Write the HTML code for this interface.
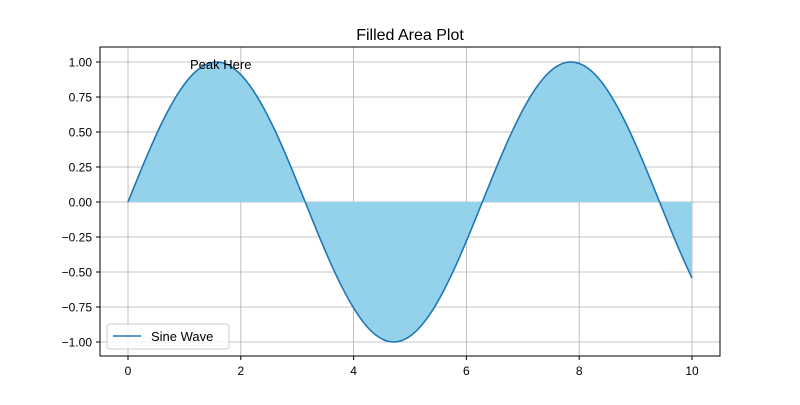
<!DOCTYPE html>
<html><head><meta charset="utf-8"><style>
body{margin:0;background:#fff;}
svg text{font-family:"Liberation Sans","DejaVu Sans",sans-serif;}
</style></head><body>
<svg id="chart" width="800" height="400" xmlns="http://www.w3.org/2000/svg">
<rect width="800" height="400" fill="#fff"/>
<text x="410" y="40" text-anchor="middle" font-size="16">Filled Area Plot</text>
<g id="grid"></g>
<path id="fill" fill="#94d2ec"/>
<g id="ticks"></g>
<path id="line" fill="none" stroke="#1f77b4" stroke-width="1.6"/>
<rect x="100" y="47" width="620" height="309" fill="none" stroke="#000" stroke-width="1"/>
<text x="190" y="69" font-size="13">Peak Here</text>
<g>
<rect x="107" y="324" width="122" height="25" rx="3" fill="#fff" fill-opacity="0.8" stroke="#ccc"/>
<line x1="113" y1="336" x2="141" y2="336" stroke="#1f77b4" stroke-width="1.6"/>
<text x="151" y="341" font-size="13">Sine Wave</text>
</g>
</svg>
<script>
const xValues=[0,0.2,0.4,0.6,0.8,1.0,1.2,1.4,1.6,1.8,2.0,2.2,2.4,2.6,2.8,3.0,3.2,3.4,3.6,3.8,4.0,4.2,4.4,4.6,4.8,5.0,5.2,5.4,5.6,5.8,6.0,6.2,6.4,6.6,6.8,7.0,7.2,7.4,7.6,7.8,8.0,8.2,8.4,8.6,8.8,9.0,9.2,9.4,9.6,9.8,10.0];
const yValues=[0,0.199,0.389,0.565,0.717,0.841,0.932,0.985,0.9996,0.974,0.909,0.808,0.675,0.516,0.335,0.141,-0.058,-0.256,-0.443,-0.612,-0.757,-0.872,-0.952,-0.994,-0.996,-0.959,-0.883,-0.773,-0.631,-0.465,-0.279,-0.083,0.117,0.312,0.494,0.657,0.794,0.899,0.968,0.999,0.989,0.941,0.855,0.734,0.585,0.412,0.223,0.025,-0.174,-0.366,-0.544];
const xTicks=[0,2,4,6,8,10];
const yTicks=[-1,-0.75,-0.5,-0.25,0,0.25,0.5,0.75,1];
const xs=v=>128+v*56.4;
const ys=v=>202-v*140;
const NS="http://www.w3.org/2000/svg";
const grid=document.getElementById('grid'),ticks=document.getElementById('ticks');
function mk(tag,attrs,parent){const e=document.createElementNS(NS,tag);for(const k in attrs)e.setAttribute(k,attrs[k]);parent.appendChild(e);return e;}
xTicks.forEach(t=>{
 const l=mk('line',{x1:xs(t),x2:xs(t),y1:47,y2:356,stroke:'#b0b0b0','stroke-width':0.8},grid);
 
 
 mk('line',{x1:xs(t),x2:xs(t),y1:356,y2:360,stroke:'#000'},ticks);
 const tx=mk('text',{x:xs(t),y:375,'text-anchor':'middle','font-size':12},ticks);tx.textContent=t;
 
 
});
yTicks.forEach(t=>{
 const l=mk('line',{x1:100,x2:720,y1:ys(t),y2:ys(t),stroke:'#b0b0b0','stroke-width':0.8},grid);
 
 
 mk('line',{x1:96,x2:100,y1:ys(t),y2:ys(t),stroke:'#000'},ticks);
 const tx=mk('text',{x:92,y:ys(t)+4.5,'text-anchor':'end','font-size':12},ticks);
 tx.textContent=(t<0?'\u2212':'')+Math.abs(t).toFixed(2);
 
 
});
const P=xValues.map((x,i)=>[xs(x),ys(yValues[i])]);
let d='M'+P[0][0].toFixed(2)+' '+P[0][1].toFixed(2);
for(let i=0;i<P.length-1;i++){
 const p0=P[Math.max(0,i-1)],p1=P[i],p2=P[i+1],p3=P[Math.min(P.length-1,i+2)];
 const c1=[p1[0]+(p2[0]-p0[0])/6,p1[1]+(p2[1]-p0[1])/6];
 const c2=[p2[0]-(p3[0]-p1[0])/6,p2[1]-(p3[1]-p1[1])/6];
 d+=' C'+c1[0].toFixed(2)+' '+c1[1].toFixed(2)+' '+c2[0].toFixed(2)+' '+c2[1].toFixed(2)+' '+p2[0].toFixed(2)+' '+p2[1].toFixed(2);
}
document.getElementById('line').setAttribute('d',d);
document.getElementById('fill').setAttribute('d',d+' L'+xs(xValues[xValues.length-1])+' '+ys(0)+' L'+xs(xValues[0])+' '+ys(0)+' Z');
</script>
</body></html>
